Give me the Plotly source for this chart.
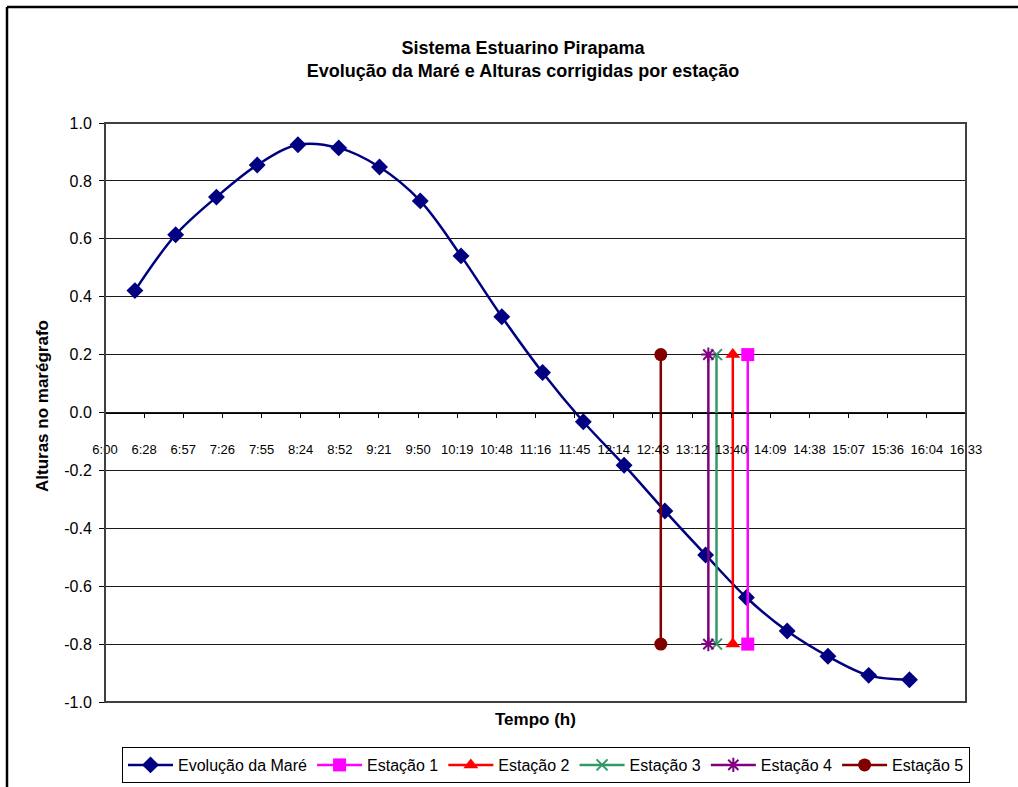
import plotly.graph_objects as go

# ---- data -------------------------------------------------------------
tide_times = ["6:22", "6:52", "7:22", "7:52", "8:22", "8:52", "9:22", "9:52",
              "10:22", "10:52", "11:22", "11:52", "12:22", "12:52", "13:22",
              "13:52", "14:22", "14:52", "15:22", "15:52"]
tide_heights = [0.421, 0.614, 0.744, 0.855, 0.925, 0.914, 0.848, 0.731,
                0.541, 0.331, 0.138, -0.032, -0.182, -0.340, -0.492,
                -0.639, -0.755, -0.842, -0.908, -0.923]

station_names = ["Estação 1", "Estação 2", "Estação 3", "Estação 4", "Estação 5"]
station_times = ["13:53", "13:42", "13:30", "13:24", "12:49"]
station_low = [-0.8, -0.8, -0.8, -0.8, -0.8]
station_high = [0.2, 0.2, 0.2, 0.2, 0.2]

x_tick_labels = ["6:00", "6:28", "6:57", "7:26", "7:55", "8:24", "8:52", "9:21",
                 "9:50", "10:19", "10:48", "11:16", "11:45", "12:14", "12:43",
                 "13:12", "13:40", "14:09", "14:38", "15:07", "15:36", "16:04",
                 "16:33"]
y_tick_values = [-1.0, -0.8, -0.6, -0.4, -0.2, 0.0, 0.2, 0.4, 0.6, 0.8, 1.0]
y_tick_labels = ["-1.0", "-0.8", "-0.6", "-0.4", "-0.2", "0.0", "0.2", "0.4",
                 "0.6", "0.8", "1.0"]


def day_fraction(hhmm):
    """Convert 'H:MM' into a fraction of a day (spreadsheet time)."""
    h, m = hhmm.split(":")
    return (int(h) * 60 + int(m)) / 1440.0


# ---- layout geometry --------------------------------------------------
W, H = 1018, 787
ML, MR, MT, MB = 105, 52, 123, 85
PW, PH = W - ML - MR, H - MT - MB


def px_x(p):
    return (p - ML) / PW


def px_y(p):
    return (H - MB - p) / PH


FONT = "Arial, 'Liberation Sans', sans-serif"

station_styles = [
    dict(color="#FF00FF", symbol="square", size=13),
    dict(color="#FF0000", symbol="triangle-up", size=13),
    dict(color="#339966", symbol="x-thin", size=11),
    dict(color="#800080", symbol="asterisk", size=12),
    dict(color="#800000", symbol="circle", size=13),
]

fig = go.Figure()

fig.add_trace(go.Scatter(
    x=[day_fraction(t) for t in tide_times],
    y=tide_heights,
    mode="lines+markers",
    name="Evolução da Maré",
    line=dict(color="#000080", width=2.5, shape="spline", smoothing=1.0),
    marker=dict(symbol="diamond", size=13, color="#000080"),
))

for name, t, lo, hi, st in zip(station_names, station_times, station_low,
                               station_high, station_styles):
    marker = dict(symbol=st["symbol"], size=st["size"], color=st["color"])
    if st["symbol"] in ("x-thin", "asterisk"):
        marker["line"] = dict(color=st["color"], width=2)
    fig.add_trace(go.Scatter(
        x=[day_fraction(t), day_fraction(t)],
        y=[lo, hi],
        mode="lines+markers",
        name=name,
        line=dict(color=st["color"], width=2.5),
        marker=marker,
    ))

x_tick_vals = [0.25 + 0.02 * i for i in range(len(x_tick_labels))]

fig.update_layout(
    width=W, height=H,
    margin=dict(l=ML, r=MR, t=MT, b=MB, autoexpand=False),
    paper_bgcolor="white",
    plot_bgcolor="white",
    font=dict(family=FONT, color="black"),
    showlegend=True,
    legend=dict(
        orientation="h",
        x=px_x(546), xanchor="center",
        y=px_y(747), yanchor="top",
        bordercolor="black", borderwidth=1,
        font=dict(size=16, family=FONT),
        itemwidth=45,
        traceorder="normal",
        tracegroupgap=0,
    ),
    xaxis=dict(
        range=[0.25, 0.69],
        tickvals=x_tick_vals,
        ticktext=x_tick_labels,
        tickfont=dict(size=13),
        ticks="outside", ticklen=4, tickcolor="black", tickwidth=1,
        ticklabelstandoff=21,
        showgrid=False, zeroline=False,
        showline=True, linecolor="black", linewidth=1,
        anchor="free", position=0.5,
    ),
    yaxis=dict(
        range=[-1.0, 1.0],
        tickvals=y_tick_values,
        ticktext=y_tick_labels,
        tickfont=dict(size=16),
        ticks="outside", ticklen=5, tickcolor="black", tickwidth=1,
        ticklabelstandoff=4,
        showgrid=True, gridcolor="#1a1a1a", gridwidth=1,
        zeroline=False,
        showline=False,
        domain=[0, 1],
    ),
    title=dict(
        text="<b>Sistema Estuarino Pirapama<br>Evolução da Maré e Alturas corrigidas por estação</b>",
        xref="paper", x=px_x(523), xanchor="center",
        yref="container", y=1 - 54 / H, yanchor="middle",
        font=dict(size=18, family=FONT),
    ),
    annotations=[
        dict(text="<b>Tempo (h)</b>", xref="paper", yref="paper",
             x=px_x(535), y=px_y(719), xanchor="center", yanchor="middle",
             showarrow=False, font=dict(size=17, family=FONT)),
        dict(text="<b>Alturas no marégrafo</b>", xref="paper", yref="paper",
             x=px_x(42), y=px_y(406), xanchor="center", yanchor="middle",
             textangle=-90, showarrow=False, font=dict(size=17, family=FONT)),
    ],
    shapes=[
        # plot-area frame
        dict(type="rect", xref="paper", yref="paper", x0=0, y0=0, x1=1, y1=1,
             line=dict(color="#404040", width=2), layer="above"),
        # chart-area border (top and left edges)
        dict(type="line", xref="paper", yref="paper",
             x0=px_x(7), x1=px_x(W + 5), y0=px_y(7), y1=px_y(7),
             line=dict(color="black", width=2.5)),
        dict(type="line", xref="paper", yref="paper",
             x0=px_x(7), x1=px_x(7), y0=px_y(7), y1=px_y(H + 5),
             line=dict(color="black", width=2.5)),
    ],
)

fig.write_html("out.html")
